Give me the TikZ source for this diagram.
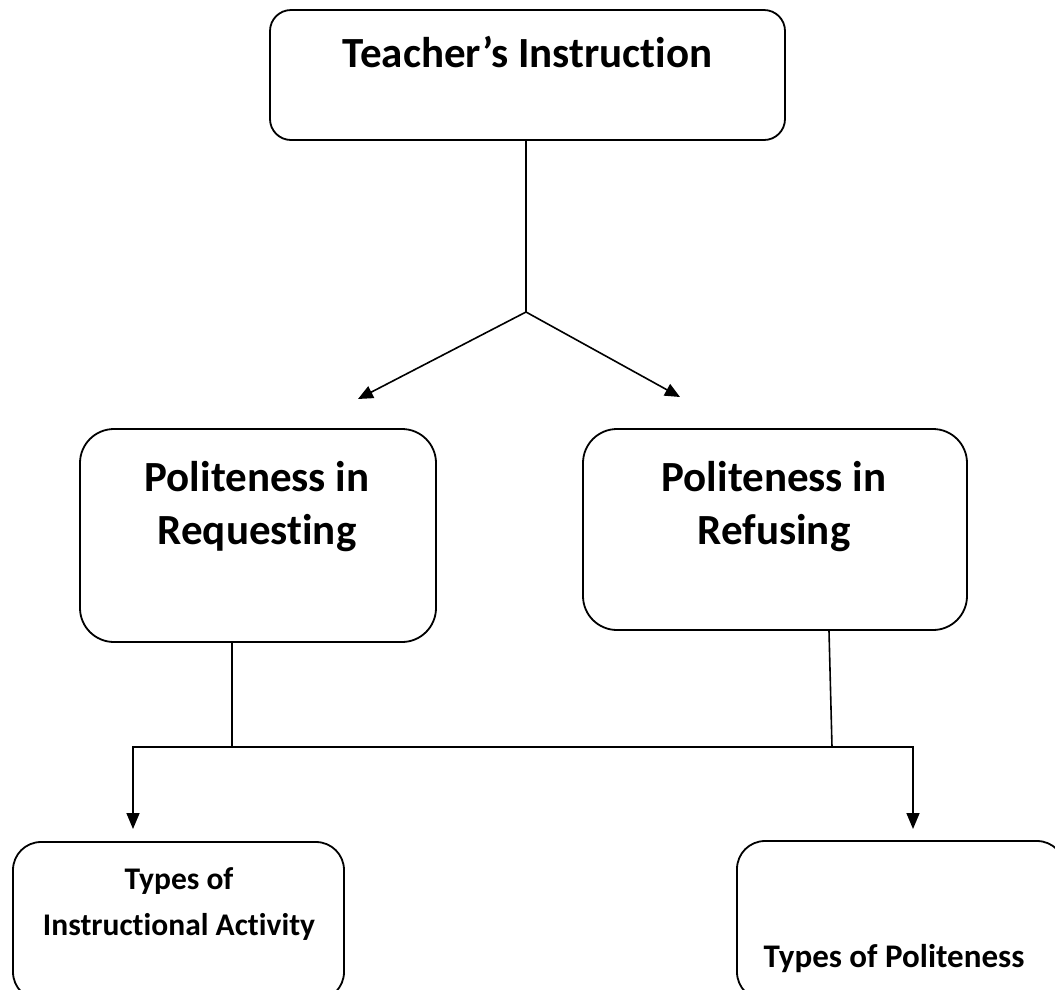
\documentclass[tikz,border=0pt]{standalone}
\usepackage{fontspec}
\setmainfont{Carlito}[Ligatures=NoCommon]
\usetikzlibrary{positioning,arrows.meta}

\tikzset{
  block/.style={draw, line width=1.8pt, rounded corners=#1, inner sep=0pt},
  caption/.style={font=\bfseries\fontsize{#1}{#1}\selectfont, align=center, inner sep=0pt, anchor=base},
  link/.style={line width=1.6pt},
  arrow/.style={link, -{Triangle[length=15pt,width=13pt]}},
}

\begin{document}
\begin{tikzpicture}[x=1pt, y=-1pt]
  \useasboundingbox (0,0) rectangle (1055,989);
  \clip (0,0) rectangle (1055,989);

  % boxes
  \node[block=21pt, minimum width=515pt, minimum height=130pt] (teacher) at (527.5,75) {};
  \node[block=34pt, minimum width=356pt, minimum height=213pt] (req) at (258,535.5) {};
  \node[block=34pt, minimum width=384pt, minimum height=201pt] (ref) at (775,529.5) {};
  \node[block=28pt, minimum width=331pt, minimum height=158pt] (activity) at (178.5,921) {};
  \node[block=28pt, minimum width=328pt, minimum height=159pt] (polite) at (901,920.5) {};

  % texts (base = last line)
  \node[caption=43pt] (teachertxt) at ([yshift=-58pt]teacher.north) {Teacher’s Instruction};
  \node[caption=43pt] (reqtxt) at ([xshift=-1pt,yshift=-116pt]req.north) {Politeness in\\[10pt]Requesting};
  \node[caption=43pt] (reftxt) at ([xshift=-1pt,yshift=-116pt]ref.north) {Politeness in\\[10pt]Refusing};
  \node[caption=31.5pt] (activitytxt) at ([xshift=0.5pt,yshift=-94pt]activity.north) {Types of\\[14.5pt]Instructional Activity};
  \node[caption=33pt] (politetxt) at ([xshift=-7pt,yshift=-127pt]polite.north) {Types of Politeness};

  % junctions
  \coordinate (split) at (526,312);
  \coordinate (reqtip) at (358,399);
  \coordinate (reftip) at (680,397);
  \coordinate (barL) at (133,747);
  \coordinate (barR) at (913,747);
  \coordinate (reqjoin) at (232,747);
  \coordinate (refjoin) at (832,747);

  % connectors
  \draw[link] (teacher.south -| split) -- (split);
  \draw[arrow] (split) -- (reqtip);
  \draw[arrow] (split) -- (reftip);
  \draw[link] (req.south -| reqjoin) -- (reqjoin);
  \draw[link] ([xshift=54pt]ref.south) -- (refjoin);
  \draw[link, {Triangle[length=16pt,width=13pt]}-{Triangle[length=16pt,width=13pt]}]
    ([yshift=-82pt]barL) -- (barL) -- (barR) -- ([yshift=-82pt]barR);
\end{tikzpicture}
\end{document}
